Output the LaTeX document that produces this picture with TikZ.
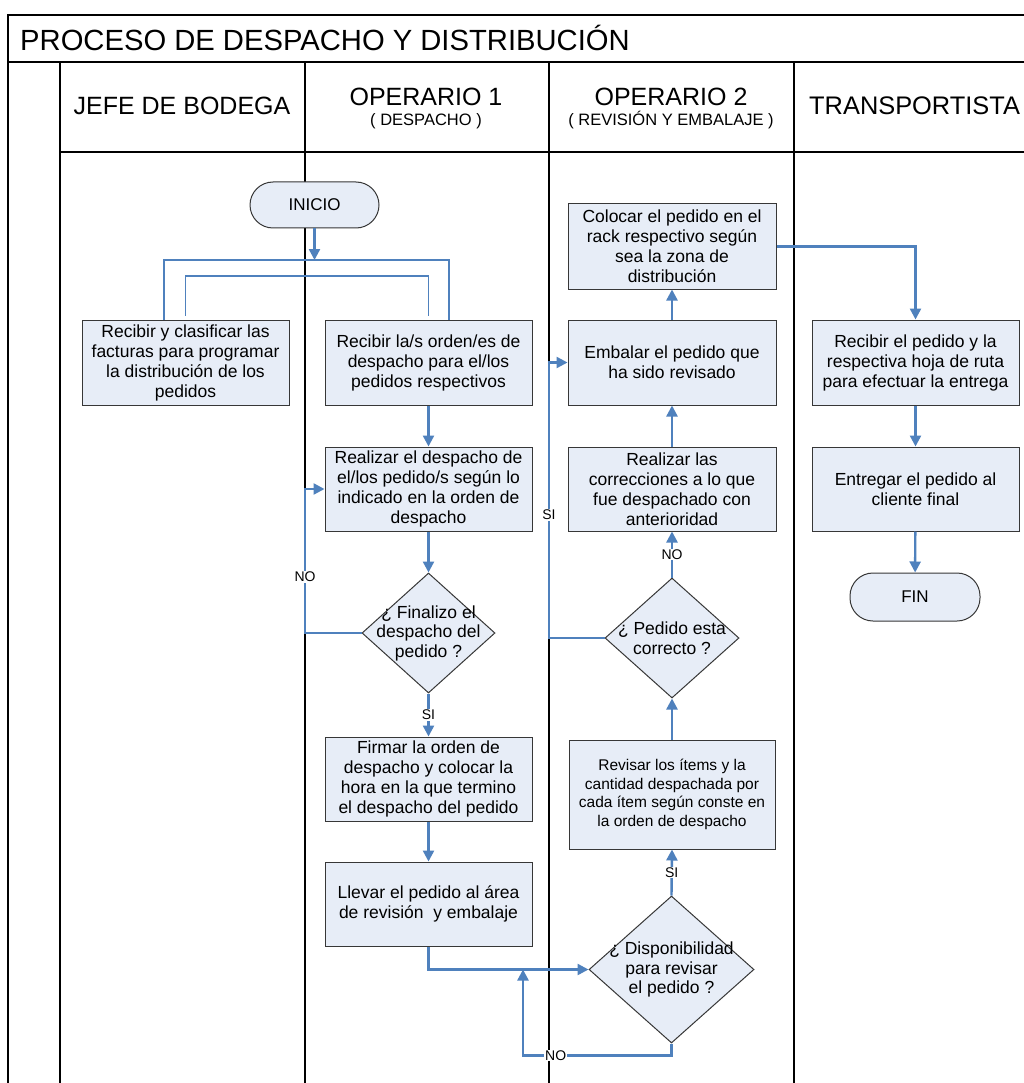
\documentclass[tikz,border=0pt]{standalone}
\usepackage{fontspec}
\setmainfont{Liberation Sans}
\usetikzlibrary{shapes.geometric,arrows.meta}
\definecolor{flowblue}{RGB}{79,129,189}
\definecolor{boxfill}{RGB}{231,237,247}
\definecolor{boxline}{RGB}{55,55,55}
\begin{document}
\begin{tikzpicture}[x=1pt,y=-1pt,
  frame/.style={draw=black, line width=1.3pt},
  box/.style={draw=boxline, line width=1pt, fill=boxfill, align=center,
    inner sep=2pt, minimum width=207pt, minimum height=85pt,
    font=\fontsize{17.5}{20}\selectfont},
  smallbox/.style={box, font=\fontsize{15.5}{18.5}\selectfont},
  terminal/.style={draw=boxline, line width=1pt, fill=boxfill,
    rounded corners=23pt, minimum width=129pt, minimum height=46pt,
    font=\fontsize{17}{20}\selectfont},
  decision/.style={draw=boxline, line width=1pt, fill=boxfill, diamond,
    inner sep=0pt},
  dtext/.style={align=center, inner sep=0pt, font=\fontsize{17.5}{19.5}\selectfont},
  flow/.style={draw=flowblue, line width=2.4pt, -{Triangle[length=11pt,width=11pt]}},
  thinflow/.style={draw=flowblue, line width=1.1pt},
  lbl/.style={fill=white, inner sep=1pt, font=\fontsize{14}{16}\selectfont},
  head/.style={font=\fontsize{25}{28}\selectfont},
  subhead/.style={font=\fontsize{16.5}{18}\selectfont}
]
\useasboundingbox (0,0) rectangle (1024,1083);
\fill[white] (0,0) rectangle (1024,1083);

% lanes and title band
\draw[frame] (1024,15) -- (8,15) -- (8,1083);
\draw[frame] (8,62) -- (1024,62);
\draw[frame] (60,152) -- (1024,152);
\foreach \lx in {60,305,549,794} \draw[frame] (\lx,62) -- (\lx,1083);

\node[anchor=west, inner sep=0pt, font=\fontsize{29.2}{32}\selectfont] (title) at (20,38) {PROCESO DE DESPACHO Y DISTRIBUCIÓN};
\node[head] (h1) at (182,106) {JEFE DE BODEGA};
\node[head] (h2) at (426,97) {OPERARIO 1};
\node[subhead] (h2s) at (426,121) {( DESPACHO )};
\node[head] (h3) at (671,97) {OPERARIO 2};
\node[subhead] (h3s) at (671,120) {( REVISIÓN Y EMBALAJE )};
\node[anchor=west, inner sep=0pt, font=\fontsize{25.4}{28}\selectfont] (h4) at (809,106) {TRANSPORTISTA};

% steps
\node[terminal] (ini) at (314.5,205) {INICIO};
\node[box] (b1) at (185.5,362.5) {Recibir y clasificar las\\facturas para programar\\la distribución de los\\pedidos};
\node[box] (b2) at (428.5,362.5) {Recibir la/s orden/es de\\despacho para el/los\\pedidos respectivos};
\node[box, minimum height=84pt] (b3) at (428.5,489) {Realizar el despacho de\\el/los pedido/s según lo\\indicado en la orden de\\despacho};
\node[decision, minimum width=133pt, minimum height=120pt] (d1) at (428.5,633) {};
\node[dtext] at (d1) {¿ Finalizo el\\despacho del\\pedido ?};
\node[box, minimum height=84pt] (b4) at (428.5,779) {Firmar la orden de\\despacho y colocar la\\hora en la que termino\\el despacho del pedido};
\node[box, minimum height=84pt] (b5) at (428.5,904) {Llevar el pedido al área\\de revisión~ y embalaje};
\node[decision, minimum width=165pt, minimum height=147pt] (d3) at (671.5,969.5) {};
\node[dtext] at (d3) {¿ Disponibilidad\\para revisar\\el pedido ?};
\node[smallbox, minimum width=206pt, minimum height=109pt] (b6) at (672,794.5) {Revisar los ítems y la\\cantidad despachada por\\cada ítem según conste en\\la orden de despacho};
\node[decision, minimum width=134pt, minimum height=120pt] (d2) at (672,638) {};
\node[dtext] at (d2) {¿ Pedido esta\\correcto ?};
\node[box, minimum width=208pt, minimum height=84pt] (b7) at (672,489) {Realizar las\\correcciones a lo que\\fue despachado con\\anterioridad};
\node[box, minimum width=208pt] (b8) at (672,362.5) {Embalar el pedido que\\ha sido revisado};
\node[box, minimum width=208pt] (b9) at (672,246.5) {Colocar el pedido en el\\rack respectivo según\\sea la zona de\\distribución};
\node[box] (b10) at (915.5,362.5) {Recibir el pedido y la\\respectiva hoja de ruta\\para efectuar la entrega};
\node[box, minimum height=84pt] (b11) at (915.5,489) {Entregar el pedido al\\cliente final};
\node[terminal, minimum width=130pt, minimum height=48pt] (fin) at (915,597) {FIN};

% junction points
\coordinate (jA) at (314.5,260);
\coordinate (jB) at (314.5,276);
\coordinate (nA) at (305,633);
\coordinate (sA) at (549,638);
\coordinate (mA) at (523,969.5);

% connectors
\draw[flow] (ini) -- (jA);
\draw[thinflow] ([xshift=-21.5pt]b1.north) |- (jA) -| ([xshift=20.5pt]b2.north);
\draw[thinflow] ([yshift=4pt]b1.north) |- (jB) -| ([yshift=4pt]b2.north);
\draw[flow] (b2) -- (b3);
\draw[flow] (b3) -- (d1.north);
\draw[flow] (d1.west) -- (nA) -- node[lbl, pos=0.39] {NO} (nA |- b3.west) -- (b3.west);
\draw[flow] (d1.south) -- node[lbl] {SI} (b4.north);
\draw[flow] (b4) -- (b5);
\draw[flow] (b5.south) |- (d3.west);
\draw[flow] (d3.south) -- ++(0,12) -| node[lbl, pos=0.39] {NO} (mA);
\draw[flow] (d3.north) -- node[lbl] {SI} (b6.south);
\draw[flow] (b6.north) -- (d2.south);
\draw[flow] (d2.north) -- node[lbl] {NO} (b7.south);
\draw[flow] (b7) -- (b8);
\draw[flow] (d2.west) -- (sA) -- node[lbl, pos=0.446] {SI} (sA |- b8.west) -- (b8.west);
\draw[flow] (b8) -- (b9);
\draw[flow] (b9.east) -| (b10.north);
\draw[flow] (b10) -- (b11);
\draw[flow] (b11) -- (fin);
\end{tikzpicture}
\end{document}
